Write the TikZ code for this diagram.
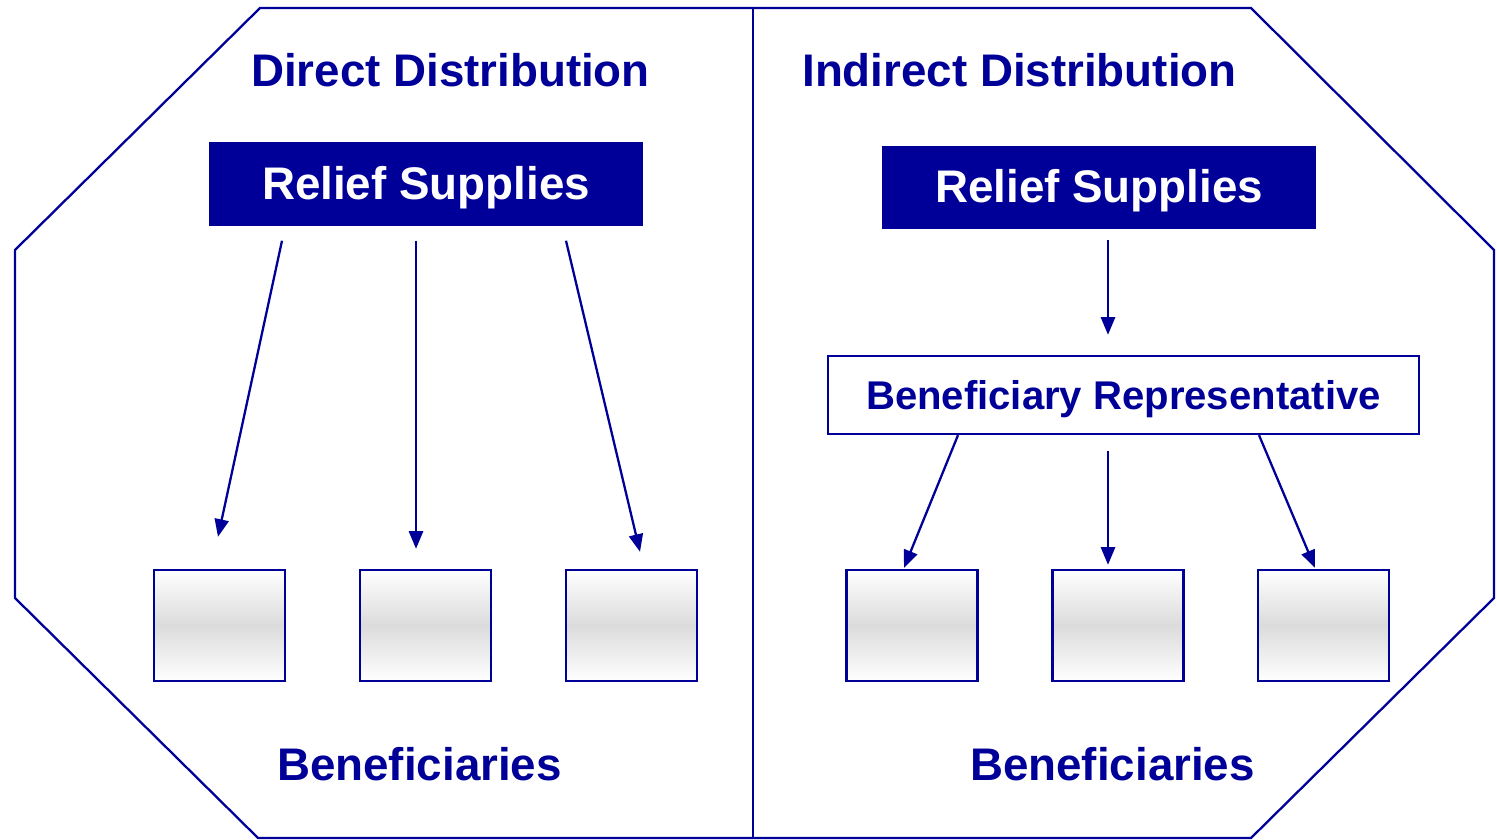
\documentclass[tikz,border=0pt]{standalone}
\usepackage{fontspec}
\setmainfont{Liberation Sans}
\usetikzlibrary{arrows.meta}
\definecolor{navy}{RGB}{0,0,153}
\begin{document}
\begin{tikzpicture}[x=0.01cm,y=-0.01cm,
  every node/.style={font=\bfseries\fontsize{13}{15}\selectfont, text=navy, inner sep=0pt},
  title/.style={anchor=base},
  supply/.style={fill=navy, draw=navy, text=white, minimum width=4.32cm, minimum height=0.82cm, text height=0.88em, text depth=0pt},
  rep/.style={draw=navy, line width=0.65pt, fill=white, minimum width=5.91cm, minimum height=0.78cm, text height=0.82em, text depth=0pt, font=\bfseries\fontsize{11.4}{13}\selectfont},
  benbox/.style={draw=navy, line width=0.65pt, minimum width=1.31cm, minimum height=1.11cm, top color=white, bottom color=white, middle color=gray!28},
  arr/.style={draw=navy, line width=0.65pt, -{Triangle[length=5pt,width=4pt]}},
  frame/.style={draw=navy, line width=0.65pt}]
\useasboundingbox (0,0) rectangle (1497,840);
% frame
\draw[frame] (260,8) -- (1251,8) -- (1494,250) -- (1494,598) -- (1251,838) -- (258,838) -- (15,598) -- (15,250) -- cycle;
\draw[frame] (753,8) -- (753,838);
% titles
\node[title] (t1) at (450.5,87) {Direct Distribution};
\node[title] (t2) at (1019.5,87) {Indirect Distribution};
\node[title] (ben1) at (419.5,780) {Beneficiaries};
\node[title] (ben2) at (1112.5,780) {Beneficiaries};
% supply boxes
\node[supply] (rs1) at (426,184) {Relief Supplies};
\node[supply] (rs2) at (1099,187.5) {Relief Supplies};
\node[rep] (rep) at (1123.5,395) {Beneficiary Representative};
% beneficiary boxes
\node[benbox] (b1) at (219.5,625.5) {};
\node[benbox] (b2) at (425.5,625.5) {};
\node[benbox] (b3) at (631.5,625.5) {};
\node[benbox] (b4) at (912,625.5) {};
\node[benbox] (b5) at (1118,625.5) {};
\node[benbox] (b6) at (1323.5,625.5) {};
% arrows direct
\draw[arr] ([shift={(-144,15)}]rs1.south) -- ([shift={(-1.5,-32)}]b1.north);
\draw[arr] ([shift={(-10,15)}]rs1.south) -- ([shift={(-9.5,-20)}]b2.north);
\draw[arr] ([shift={(140,15)}]rs1.south) -- ([shift={(8.5,-17)}]b3.north);
% arrows indirect
\draw[arr] ([shift={(9,11)}]rs2.south) -- ([shift={(-15.5,-20)}]rep.north);
\draw[arr] ([shift={(-165.5,0)}]rep.south) -- ([shift={(-8,-1)}]b4.north);
\draw[arr] ([shift={(-15.5,16)}]rep.south) -- ([shift={(-10,-4)}]b5.north);
\draw[arr] ([shift={(135.5,0)}]rep.south) -- ([shift={(-8.5,-1)}]b6.north);
\end{tikzpicture}
\end{document}
